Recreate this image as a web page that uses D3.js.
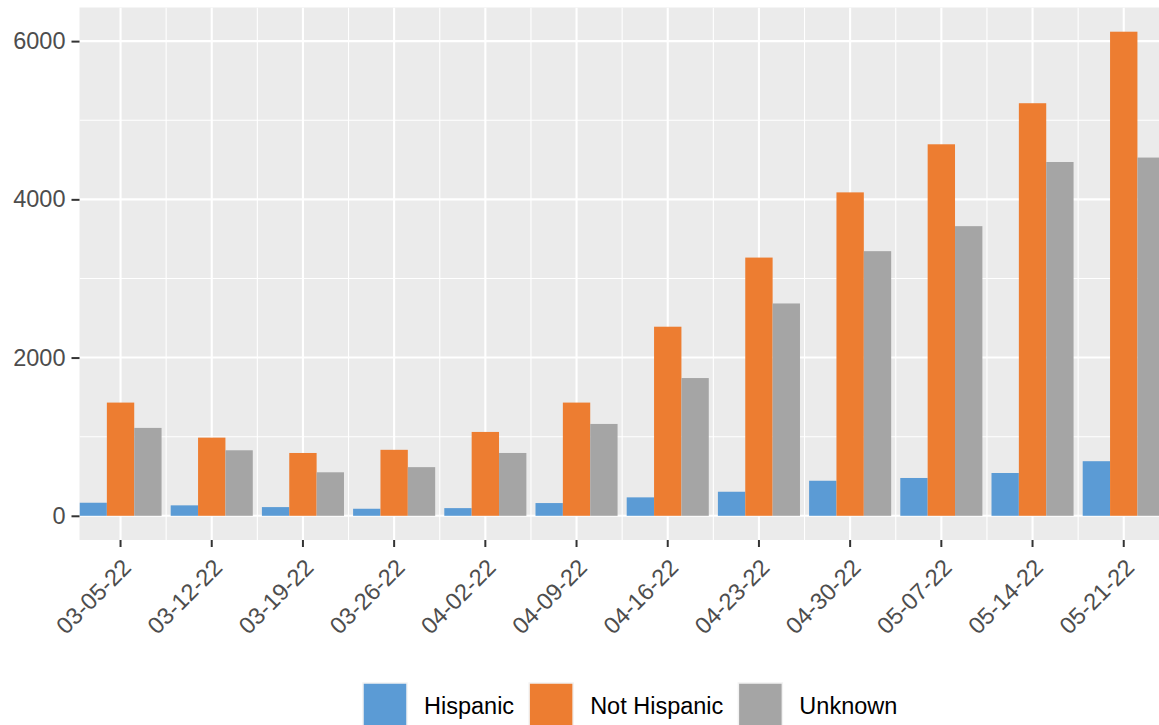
<!DOCTYPE html>
<html>
<head>
<meta charset="utf-8">
<script src="https://cdn.jsdelivr.net/npm/d3@7"></script>
<style>
  html, body { margin: 0; padding: 0; background: #ffffff; }
  svg { display: block; }
</style>
</head>
<body>
<svg id="chart" width="1159" height="725"></svg>
<script>
const categories = ["03-05-22","03-12-22","03-19-22","03-26-22","04-02-22","04-09-22","04-16-22","04-23-22","04-30-22","05-07-22","05-14-22","05-21-22"];
const seriesNames = ["Hispanic","Not Hispanic","Unknown"];
const hispanic    = [165, 132, 110,  89,  97, 161,  233,  304,  443,  478,  541,  690];
const notHispanic = [1431, 988, 794, 834, 1060, 1431, 2390, 3264, 4088, 4696, 5215, 6119];
const unknown     = [1111, 828, 550, 615, 794, 1161, 1741, 2684, 3345, 3661, 4472, 4528];
const yTicks = [0, 2000, 4000, 6000];
const yMinor = [1000, 3000, 5000];
const colors = ["#5B9BD5", "#ED7D31", "#A5A5A5"];

const seriesValues = [hispanic, notHispanic, unknown];
const rows = categories.map((c, i) => ({cat: c, vals: seriesNames.map((s, j) => ({key: s, value: seriesValues[j][i]}))}));

const FONT = "Liberation Sans, Arial, sans-serif";
const svg = d3.select("#chart");
const panel = {left: 79.5, top: 7.5, bottom: 540};
const step = 91.2;
const x = d3.scaleBand().domain(categories).range([panel.left - 0.05 * step, panel.left - 0.05 * step + categories.length * step]).padding(0);
panel.right = x.range()[1] - 0.05 * step;

const allVals = seriesValues.flat();
const vmax = d3.max(allVals);
const y = d3.scaleLinear().domain([-0.05 * vmax, vmax * 1.05]).range([panel.bottom, panel.top]);

const groupW = x.bandwidth() * 0.9;
const xs = d3.scaleBand().domain(seriesNames).range([0, groupW]).padding(0);
const color = d3.scaleOrdinal().domain(seriesNames).range(colors);

const defs = svg.append("defs");
defs.append("clipPath").attr("id", "clip").append("rect")
  .attr("x", panel.left).attr("y", panel.top).attr("width", panel.right - panel.left).attr("height", panel.bottom - panel.top);

svg.append("rect").attr("x", panel.left).attr("y", panel.top)
  .attr("width", panel.right - panel.left).attr("height", panel.bottom - panel.top)
  .attr("fill", "#EBEBEB");

const grid = svg.append("g").attr("clip-path", "url(#clip)");
grid.selectAll(".hmin").data(yMinor).join("line")
  .attr("x1", panel.left).attr("x2", panel.right)
  .attr("y1", d => y(d)).attr("y2", d => y(d))
  .attr("stroke", "#ffffff").attr("stroke-width", 1.1);
grid.selectAll(".vmin").data(categories.slice(1)).join("line")
  .attr("x1", d => x(d)).attr("x2", d => x(d))
  .attr("y1", panel.top).attr("y2", panel.bottom)
  .attr("stroke", "#ffffff").attr("stroke-width", 1.1);
grid.selectAll(".hmaj").data(yTicks).join("line")
  .attr("x1", panel.left).attr("x2", panel.right)
  .attr("y1", d => y(d)).attr("y2", d => y(d))
  .attr("stroke", "#ffffff").attr("stroke-width", 2.1);
grid.selectAll(".vmaj").data(categories).join("line")
  .attr("x1", d => x(d) + x.bandwidth() / 2).attr("x2", d => x(d) + x.bandwidth() / 2)
  .attr("y1", panel.top).attr("y2", panel.bottom)
  .attr("stroke", "#ffffff").attr("stroke-width", 2.1);

const bars = svg.append("g").attr("clip-path", "url(#clip)");
bars.selectAll("g").data(rows).join("g")
  .attr("transform", d => `translate(${x(d.cat) + (x.bandwidth() - groupW) / 2},0)`)
  .selectAll("rect").data(d => d.vals).join("rect")
  .attr("x", d => xs(d.key)).attr("width", xs.bandwidth())
  .attr("y", d => y(d.value)).attr("height", d => y(0) - y(d.value))
  .attr("fill", d => color(d.key));

const yAxis = d3.axisLeft(y).tickValues(yTicks).tickSize(8).tickPadding(6).tickFormat(d3.format("d"));
const gy = svg.append("g").attr("transform", `translate(${panel.left},0)`).call(yAxis);
gy.select(".domain").remove();
gy.selectAll(".tick line").attr("stroke", "#333333").attr("stroke-width", 2);
gy.selectAll(".tick text").attr("fill", "#4D4D4D").style("font-family", FONT).style("font-size", "23.5px");

const xAxis = d3.axisBottom(x).tickSize(7).tickPadding(0);
const gx = svg.append("g").attr("transform", `translate(0,${panel.bottom})`).call(xAxis);
gx.select(".domain").remove();
gx.selectAll(".tick line").attr("stroke", "#333333").attr("stroke-width", 2);
gx.selectAll(".tick text")
  .attr("fill", "#4D4D4D")
  .style("font-family", FONT).style("font-size", "23.5px")
  .attr("text-anchor", "end")
  .attr("dy", null).attr("y", null)
  .attr("transform", "translate(12,29) rotate(-45)");

// legend: keys and labels laid out left to right
const lg = svg.append("g");
let cx = 363;
seriesNames.forEach((s) => {
  lg.append("rect").attr("x", cx).attr("y", 683).attr("width", 44).attr("height", 44)
    .attr("fill", color(s)).attr("stroke", "#F2F2F2").attr("stroke-width", 1.5);
  const t = lg.append("text").attr("x", cx + 44 + 17).attr("y", 714)
    .attr("fill", "#000000")
    .style("font-family", FONT).style("font-size", "23.5px")
    .text(s);
  cx = cx + 44 + 17 + t.node().getComputedTextLength() + 15;
});
</script>
</body>
</html>
